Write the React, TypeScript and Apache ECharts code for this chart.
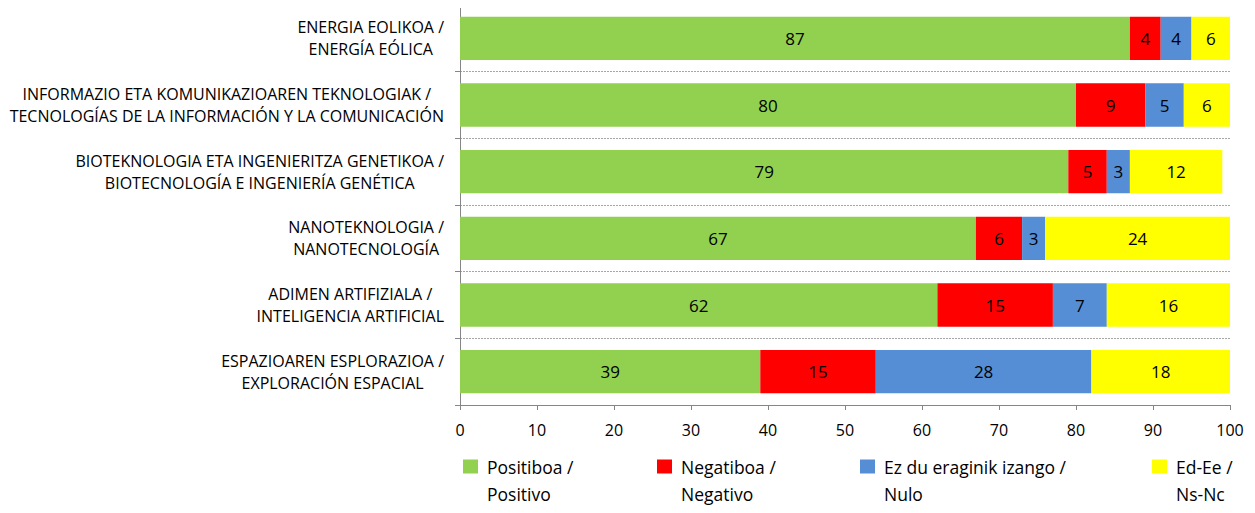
import React, { useEffect, useRef } from "react";
import * as echarts from "echarts";

const categories = [
  "ENERGIA EOLIKOA /\nENERGÍA EÓLICA",
  "INFORMAZIO ETA KOMUNIKAZIOAREN TEKNOLOGIAK /\nTECNOLOGÍAS DE LA INFORMACIÓN Y LA COMUNICACIÓN",
  "BIOTEKNOLOGIA ETA INGENIERITZA GENETIKOA /\nBIOTECNOLOGÍA E INGENIERÍA GENÉTICA",
  "NANOTEKNOLOGIA /\nNANOTECNOLOGÍA",
  "ADIMEN ARTIFIZIALA /\nINTELIGENCIA ARTIFICIAL",
  "ESPAZIOAREN ESPLORAZIOA /\nEXPLORACIÓN ESPACIAL",
];

const seriesNames = [
  "Positiboa /\nPositivo",
  "Negatiboa /\nNegativo",
  "Ez du eraginik izango /\nNulo",
  "Ed-Ee /\nNs-Nc",
];

const positivo = [87, 80, 79, 67, 62, 39];
const negativo = [4, 9, 5, 6, 15, 15];
const nulo = [4, 5, 3, 3, 7, 28];
const nsnc = [6, 6, 12, 24, 16, 18];

const xTicks = { min: 0, max: 100, interval: 10 };

const colors = ["#92D050", "#FF0000", "#558ED5", "#FFFF00"];
const legendLefts = [463, 657, 860, 1152];

const FONT = "'Open Sans', sans-serif";

export default function App() {
  const ref = useRef<HTMLDivElement>(null);
  useEffect(() => {
    if (!ref.current) return;
    const chart = echarts.init(ref.current, null, { renderer: "svg" });
    const values = [positivo, negativo, nulo, nsnc];
    const lh = 27;
    chart.setOption({
      animation: false,
      textStyle: { fontFamily: FONT },
      grid: { left: 460, right: 25, top: 5, bottom: 108, containLabel: false },
      xAxis: {
        type: "value",
        min: xTicks.min,
        max: xTicks.max,
        interval: xTicks.interval,
        axisLine: { show: true, lineStyle: { color: "#868686", width: 1 } },
        axisTick: { show: true, length: 5, lineStyle: { color: "#868686" } },
        splitLine: { show: false },
        axisLabel: { color: "#000", fontSize: 16, fontFamily: FONT, margin: 17 },
      },
      yAxis: {
        type: "category",
        inverse: true,
        data: categories,
        axisLine: { show: true, lineStyle: { color: "#868686", width: 1 } },
        axisTick: { show: true, length: 5, lineStyle: { color: "#868686" } },
        splitLine: {
          show: true,
          showMinLine: false,
          showMaxLine: false,
          lineStyle: { color: "#A6A6A6", type: [2, 1], width: 1 },
        },
        axisLabel: {
          margin: 16,
          formatter: (v: string) =>
            v
              .split("\n")
              .map((s) => `{c|${s}}`)
              .join("\n"),
          rich: {
            c: {
              align: "center",
              fontSize: 16,
              lineHeight: 22,
              fontFamily: FONT,
              color: "#000",
            },
          },
        },
      },
      legend: seriesNames.map((n, i) => ({
        data: [n],
        left: legendLefts[i],
        top: 426,
        padding: 0,
        orient: "horizontal",
        icon: "rect",
        itemWidth: 15,
        itemHeight: 14,
        itemGap: 0,
        formatter: (name: string) => "\n" + name,
        textStyle: {
          fontSize: 17.5,
          lineHeight: lh,
          color: "#000",
          fontFamily: FONT,
          padding: [0, 0, 0, 4],
        },
      })),
      series: seriesNames.map((n, i) => ({
        name: n,
        type: "bar",
        stack: "total",
        barWidth: "65%",
        clip: true,
        itemStyle: { color: colors[i] },
        label: {
          show: true,
          position: "inside",
          color: "#000",
          fontSize: 17,
          fontFamily: FONT,
        },
        data: values[i],
      })),
    });
    return () => chart.dispose();
  }, []);
  return <div ref={ref} style={{ width: 1255, height: 513, margin: -8 }} />;
}
